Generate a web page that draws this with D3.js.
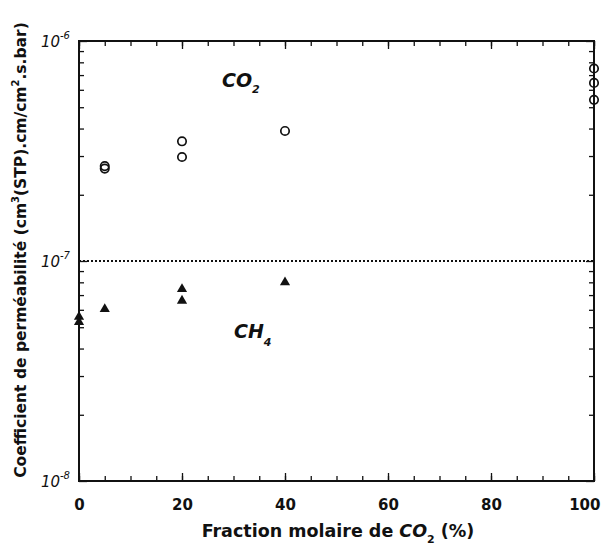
<!DOCTYPE html>
<html>
<head>
<meta charset="utf-8">
<script src="https://cdn.jsdelivr.net/npm/d3@7"></script>
<style>
  html, body { margin: 0; padding: 0; background: #fff; }
  svg { display: block; }
  text { font-family: "DejaVu Sans", sans-serif; fill: #111; }
</style>
</head>
<body>
<svg id="chart" width="603" height="547"></svg>
<script>
// ---- data ----
const co2X = [5, 5, 20, 20, 40, 100, 100, 100];
const co2Y = [2.7e-7, 2.63e-7, 3.5e-7, 2.97e-7, 3.9e-7, 7.5e-7, 6.45e-7, 5.4e-7];
const ch4X = [0, 0, 5, 20, 20, 40];
const ch4Y = [5.57e-8, 5.28e-8, 6.05e-8, 7.45e-8, 6.6e-8, 8.0e-8];
const xTicks = [0, 20, 40, 60, 80, 100];
const yDecades = [1e-8, 1e-7, 1e-6];
const yDecadeExp = ["-8", "-7", "-6"];
const refLine = 1e-7;

const svg = d3.select("#chart");
const m = {left: 79, top: 41, right: 9, bottom: 66};
const W = 603 - m.left - m.right, H = 547 - m.top - m.bottom;
const g = svg.append("g").attr("transform", `translate(${m.left},${m.top})`);

const x = d3.scaleLinear().domain([0, 100]).range([0, W]);
const y = d3.scaleLog().domain([1e-8, 1e-6]).range([H, 0]);

// minor ticks
const xMinor = d3.range(0, 101, 5);
const yMinor = [];
[1e-8, 1e-7].forEach(d => { for (let k = 2; k <= 9; k++) yMinor.push(d * k); });

const tickStyle = sel => sel.selectAll("line").attr("stroke", "#111").attr("stroke-width", 1.3);

// bottom
const bottomMinor = g.append("g").attr("transform", `translate(0,${H})`)
  .call(d3.axisBottom(x).tickValues(xMinor).tickSize(-5).tickFormat(""));
const bottomMajor = g.append("g").attr("transform", `translate(0,${H})`)
  .call(d3.axisBottom(x).tickValues(xTicks).tickSize(-8).tickPadding(18).tickFormat(d3.format("d")));
// top
const topMinor = g.append("g").call(d3.axisTop(x).tickValues(xMinor).tickSize(-5).tickFormat(""));
const topMajor = g.append("g").call(d3.axisTop(x).tickValues(xTicks).tickSize(-8).tickFormat(""));
// left
const leftMinor = g.append("g").call(d3.axisLeft(y).tickValues(yMinor).tickSize(-5).tickFormat(""));
const leftMajor = g.append("g").call(d3.axisLeft(y).tickValues(yDecades).tickSize(-8).tickFormat(""));
// right
const rightMinor = g.append("g").attr("transform", `translate(${W},0)`)
  .call(d3.axisRight(y).tickValues(yMinor).tickSize(-5).tickFormat(""));
const rightMajor = g.append("g").attr("transform", `translate(${W},0)`)
  .call(d3.axisRight(y).tickValues(yDecades).tickSize(-8).tickFormat(""));

[bottomMinor, bottomMajor, topMinor, topMajor, leftMinor, leftMajor, rightMinor, rightMajor].forEach(a => {
  a.select(".domain").remove();
  tickStyle(a);
});
bottomMajor.selectAll("text").attr("font-size", 15).attr("font-weight", "bold").attr("fill", "#111");
bottomMajor.selectAll("text").filter(d => d === 100).attr("text-anchor", "end").attr("dx", 6);

// frame
g.append("rect").attr("x", 0).attr("y", 0).attr("width", W).attr("height", H)
  .attr("fill", "none").attr("stroke", "#111").attr("stroke-width", 2);

// y decade labels
yDecades.forEach((d, i) => {
  const t = g.append("text").attr("x", -9).attr("y", y(d) + 6)
    .attr("text-anchor", "end").attr("font-size", 15).attr("font-style", "italic");
  t.append("tspan").text("10");
  t.append("tspan").attr("font-size", 10).attr("dy", -8).text(yDecadeExp[i]);
});

// dotted reference line
g.append("line").attr("x1", 0).attr("x2", W).attr("y1", y(refLine)).attr("y2", y(refLine))
  .attr("stroke", "#111").attr("stroke-width", 2).attr("stroke-dasharray", "2,2");

// CO2 circles
g.selectAll("circle.co2").data(co2X).enter().append("circle")
  .attr("class", "co2")
  .attr("cx", (d, i) => x(d)).attr("cy", (d, i) => y(co2Y[i]))
  .attr("r", 4.2).attr("fill", "none").attr("stroke", "#111").attr("stroke-width", 1.7);

// CH4 triangles
const tri = d3.symbol().type(d3.symbolTriangle).size(45);
g.selectAll("path.ch4").data(ch4X).enter().append("path")
  .attr("class", "ch4")
  .attr("d", tri)
  .attr("transform", (d, i) => `translate(${x(d)},${y(ch4Y[i])})`)
  .attr("fill", "#111");

// series labels
const co2Lab = svg.append("text").attr("x", 222).attr("y", 87)
  .attr("font-size", 19).attr("font-style", "italic").attr("font-weight", "bold");
co2Lab.append("tspan").text("CO");
co2Lab.append("tspan").attr("font-size", 11).attr("dy", 6).text("2");

const ch4Lab = svg.append("text").attr("x", 234).attr("y", 338)
  .attr("font-size", 19).attr("font-style", "italic").attr("font-weight", "bold");
ch4Lab.append("tspan").text("CH");
ch4Lab.append("tspan").attr("font-size", 11).attr("dy", 8).text("4");

// x axis title
const xt = svg.append("text").attr("x", 338).attr("y", 537).attr("text-anchor", "middle")
  .attr("font-size", 17.5).attr("font-weight", "bold");
xt.append("tspan").text("Fraction molaire de ");
xt.append("tspan").attr("font-style", "italic").text("CO");
xt.append("tspan").attr("font-size", 11).attr("dy", 6).text("2");
xt.append("tspan").attr("dy", -6).text(" (%)");

// y axis title
const yt = svg.append("text").attr("transform", "translate(26,250) rotate(-90)")
  .attr("text-anchor", "middle").attr("font-size", 15.5).attr("font-weight", "bold");
yt.append("tspan").text("Coefficient de perméabilité (cm");
yt.append("tspan").attr("font-size", 10).attr("dy", -7).text("3");
yt.append("tspan").attr("dy", 7).text("(STP).cm/cm");
yt.append("tspan").attr("font-size", 10).attr("dy", -7).text("2");
yt.append("tspan").attr("dy", 7).text(".s.bar)");
</script>
</body>
</html>
